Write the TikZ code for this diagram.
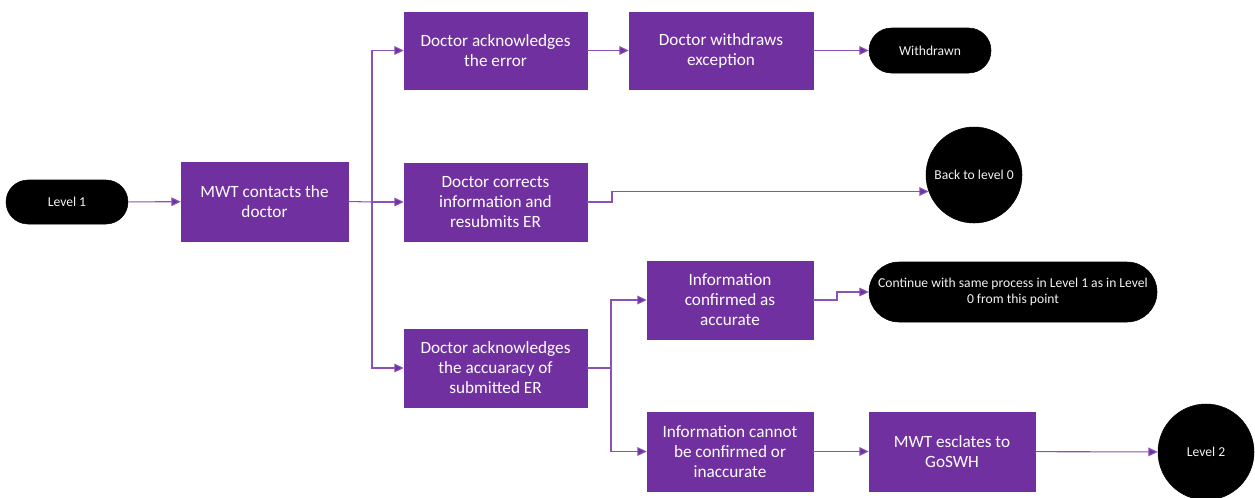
\documentclass[tikz,border=0pt]{standalone}
\usepackage{fontspec}
\setmainfont{Carlito}
\usetikzlibrary{arrows.meta,fit}
\definecolor{mpurple}{HTML}{7030A0}
\definecolor{lpurple}{HTML}{8A52B8}
\begin{document}
\begin{tikzpicture}[x=0.75pt,y=-0.75pt,
  box/.style={rectangle, fill=mpurple, draw=mpurple, text=white, align=center,
    font=\fontsize{12.9}{15}\selectfont, inner sep=0pt},
  pill/.style={rectangle, fill=black, draw=black, text=white!90!gray, align=center,
    font=\fontsize{10.2}{12}\selectfont, inner sep=0pt},
  endc/.style={circle, fill=black, draw=black, text=white!90!gray, align=center,
    font=\fontsize{10.2}{12}\selectfont, inner sep=0pt, minimum size=72pt},
  conn/.style={draw=lpurple, line width=0.8pt, -{Triangle[length=7pt,width=6.5pt,fill=mpurple]}},
  link/.style={draw=lpurple, line width=0.8pt}
]
\useasboundingbox (0,0) rectangle (1255,497);

\node[pill, rounded corners=16.5pt, fit={(6,180) (128,224)}, label={[pill]center:Level 1}] (l1) {};
\node[box, fit={(181,162) (348,241)}, label={[box]center:MWT contacts the\\doctor}] (mwt) {};
\node[box, fit={(404,12) (587,89)}, label={[box]center:Doctor acknowledges\\the error}] (ack) {};
\node[box, fit={(629,12) (813,89)}, label={[box]center:Doctor withdraws\\exception}] (wd) {};
\node[pill, rounded corners=16.8pt, fit={(869,28) (991,73)}, label={[pill]center:Withdrawn}] (wdn) {};
\node[box, fit={(404,163) (587,241)}, label={[box]center:Doctor corrects\\information and\\resubmits ER}] (cor) {};
\node[endc] (back) at (974,175) {Back to level 0};
\node[box, fit={(404,329) (587,407)}, label={[box]center:Doctor acknowledges\\the accuaracy of\\submitted ER}] (acc) {};
\node[box, fit={(647,261) (813,339)}, label={[box]center:Information\\confirmed as\\accurate}] (conf) {};
\node[pill, rounded corners=22.5pt, fit={(869,262) (1157,322)}, label={[pill]center:Continue with same process in Level 1 as in Level\\0 from this point}] (cont) {};
\node[box, fit={(647,412) (813,491)}, label={[box]center:Information cannot\\be confirmed or\\inaccurate}] (cannot) {};
\node[box, fit={(869,412) (1035,491)}, label={[box]center:MWT esclates to\\GoSWH}] (esc) {};
\node[endc] (lvl2) at (1206,452) {Level 2};

\coordinate (j1) at (372,202);
\coordinate (j2) at (611,368);

\draw[conn] (l1) -- (mwt);
\draw[link] (mwt.east) -- (j1);
\draw[conn] (j1) |- (ack.west);
\draw[conn] (j1) |- (cor.west);
\draw[conn] (j1) |- (acc.west);
\draw[conn] (ack) -- (wd);
\draw[conn] (wd) -- (wdn);
\draw[conn] (cor.east) -- (612,202) |- (back.200.7);
\draw[link] (acc.east) -- (j2);
\draw[conn] (j2) |- (conf.west);
\draw[conn] (j2) |- (cannot.west);
\draw[conn] (conf.east) -- (837,300) |- (cont.west);
\draw[conn] (cannot) -- (esc);
\draw[conn] (esc) -- (lvl2);
\end{tikzpicture}
\end{document}
